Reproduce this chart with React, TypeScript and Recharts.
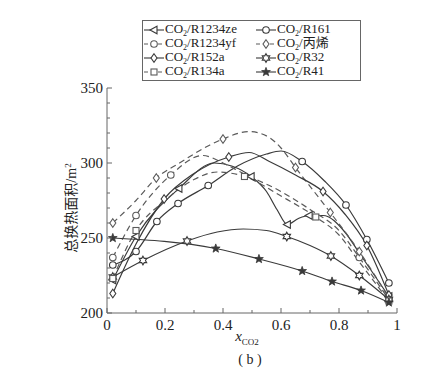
import { LineChart, Line, XAxis, YAxis } from "recharts";

type P = [number, number];

const xTicks = [0, 0.1, 0.2, 0.3, 0.4, 0.5, 0.6, 0.7, 0.8, 0.9, 1];
const yTicks = [200, 210, 220, 230, 240, 250, 260, 270, 280, 290, 300, 310, 320, 330, 340, 350];

// CO2/R1234ze
const r1234zeCurve: P[] = [
  [0.02, 222], [0.1, 251], [0.248, 283], [0.37, 300], [0.43, 298], [0.497, 291],
  [0.55, 281], [0.586, 269], [0.622, 259], [0.66, 263], [0.697, 265], [0.745, 265],
  [0.82, 254], [0.87, 240], [0.972, 211],
];
const r1234zeMarks: P[] = [[0.02, 222], [0.1, 251], [0.248, 283], [0.497, 291], [0.622, 259], [0.697, 265], [0.972, 211]];

// CO2/R161
const r161Curve: P[] = [
  [0.02, 232], [0.1, 241], [0.172, 261], [0.245, 273], [0.349, 285], [0.45, 298],
  [0.55, 306], [0.6, 308], [0.673, 301], [0.75, 288], [0.824, 272], [0.896, 249], [0.972, 220],
];
const r161Marks: P[] = [[0.02, 232], [0.1, 241], [0.172, 261], [0.245, 273], [0.349, 285], [0.673, 301], [0.824, 272], [0.896, 249], [0.972, 220]];

// CO2/R1234yf
const r1234yfCurve: P[] = [
  [0.02, 237], [0.1, 265], [0.22, 292], [0.33, 305], [0.4, 300], [0.47, 293],
  [0.6, 281], [0.7, 269], [0.8, 255], [0.87, 237], [0.972, 209],
];
const r1234yfMarks: P[] = [[0.02, 237], [0.1, 265], [0.22, 292], [0.87, 237], [0.972, 209]];

// CO2/丙烯
const propyleneCurve: P[] = [
  [0.02, 260], [0.1, 275], [0.17, 290], [0.25, 300], [0.355, 312], [0.4, 316],
  [0.49, 321], [0.56, 317], [0.6, 310], [0.65, 297], [0.77, 267], [0.87, 241], [0.972, 210],
];
const propyleneMarks: P[] = [[0.02, 260], [0.17, 290], [0.4, 316], [0.65, 297], [0.77, 267], [0.87, 241], [0.972, 210]];

// CO2/R152a
const r152aCurve: P[] = [
  [0.02, 213], [0.1, 246], [0.197, 276], [0.3, 293], [0.42, 304], [0.49, 307],
  [0.56, 301], [0.65, 292], [0.745, 281], [0.82, 266], [0.896, 245], [0.972, 212],
];
const r152aMarks: P[] = [[0.02, 213], [0.197, 276], [0.42, 304], [0.745, 281], [0.896, 245], [0.972, 212]];

// CO2/R32
const r32Curve: P[] = [
  [0.02, 224], [0.124, 235], [0.276, 248], [0.38, 254], [0.47, 256], [0.55, 255],
  [0.62, 251], [0.7, 245], [0.772, 238], [0.87, 225], [0.972, 209],
];
const r32Marks: P[] = [[0.02, 224], [0.124, 235], [0.276, 248], [0.62, 251], [0.772, 238], [0.87, 225], [0.972, 209]];

// CO2/R134a
const r134aCurve: P[] = [
  [0.02, 223], [0.1, 255], [0.2, 275], [0.3, 289], [0.38, 294], [0.474, 291],
  [0.6, 278], [0.72, 264], [0.8, 252], [0.87, 234], [0.972, 208],
];
const r134aMarks: P[] = [[0.02, 223], [0.1, 255], [0.474, 291], [0.72, 264], [0.972, 208]];

// CO2/R41
const r41Curve: P[] = [
  [0.02, 250], [0.375, 243], [0.524, 236], [0.673, 228], [0.776, 221], [0.876, 215], [0.972, 207],
];

const LINE = "#3a3a3a";
const DASH = "#5a5a5a";
const AXIS = "#666";
const TEXT = "#222";
const FONT = "'Liberation Serif', 'Times New Roman', serif";
const CJK = "'Liberation Serif', 'Noto Sans CJK SC', serif";

type Kind = "triL" | "circle" | "diamond" | "square" | "hex" | "star";

const series: { name: string; curve: P[]; marks: P[]; dashed: boolean; marker: Kind }[] = [
  { name: "R1234ze", curve: r1234zeCurve, marks: r1234zeMarks, dashed: false, marker: "triL" },
  { name: "R161", curve: r161Curve, marks: r161Marks, dashed: false, marker: "circle" },
  { name: "R1234yf", curve: r1234yfCurve, marks: r1234yfMarks, dashed: true, marker: "circle" },
  { name: "丙烯", curve: propyleneCurve, marks: propyleneMarks, dashed: true, marker: "diamond" },
  { name: "R152a", curve: r152aCurve, marks: r152aMarks, dashed: false, marker: "diamond" },
  { name: "R32", curve: r32Curve, marks: r32Marks, dashed: false, marker: "hex" },
  { name: "R134a", curve: r134aCurve, marks: r134aMarks, dashed: true, marker: "square" },
  { name: "R41", curve: r41Curve, marks: r41Curve, dashed: false, marker: "star" },
];

function starPoints(cx: number, cy: number, n: number, ro: number, ri: number) {
  const pts: string[] = [];
  for (let i = 0; i < n * 2; i++) {
    const r = i % 2 === 0 ? ro : ri;
    const a = -Math.PI / 2 + (i * Math.PI) / n;
    pts.push(`${cx + r * Math.cos(a)},${cy + r * Math.sin(a)}`);
  }
  return pts.join(" ");
}

function Marker({ kind, cx, cy, color }: { kind: Kind; cx: number; cy: number; color: string }) {
  const common = { stroke: color, strokeWidth: 1.1, fill: "#fff" };
  switch (kind) {
    case "triL":
      return <polygon points={`${cx - 4},${cy} ${cx + 3},${cy - 3.8} ${cx + 3},${cy + 3.8}`} {...common} />;
    case "circle":
      return <circle cx={cx} cy={cy} r={3.3} {...common} />;
    case "diamond":
      return <polygon points={`${cx},${cy - 4.2} ${cx + 3},${cy} ${cx},${cy + 4.2} ${cx - 3},${cy}`} {...common} />;
    case "square":
      return <rect x={cx - 3} y={cy - 3} width={6} height={6} {...common} />;
    case "hex":
      return <polygon points={starPoints(cx, cy, 6, 4.3, 2.5)} {...common} />;
    default:
      return <polygon points={starPoints(cx, cy, 5, 4.6, 1.9)} stroke={color} strokeWidth={0.8} fill={color} />;
  }
}

const toData = (arr: P[]) => arr.map(([x, y]) => ({ x, y }));

const fmtX = (v: number) => (v === 0 ? "0" : v === 1 ? "1" : v.toFixed(1));

const BottomTick = (p: any) => {
  const v = p.payload.value;
  const major = Math.round(v * 10) % 2 === 0;
  return (
    <g>
      <line x1={p.x} y1={p.y} x2={p.x} y2={p.y - (major ? 5 : 3)} stroke={AXIS} />
      {major && (
        <text x={p.x} y={p.y + 17} textAnchor="middle" fontFamily={FONT} fontSize={15} fill={TEXT}>
          {fmtX(v)}
        </text>
      )}
    </g>
  );
};

const TopTick = (p: any) => {
  const v = p.payload.value;
  const major = Math.round(v * 10) % 2 === 0;
  return <line x1={p.x} y1={p.y} x2={p.x} y2={p.y + (major ? 5 : 3)} stroke={AXIS} />;
};

const LeftTick = (p: any) => {
  const v = p.payload.value;
  const major = v % 50 === 0;
  return (
    <g>
      <line x1={p.x} y1={p.y} x2={p.x + (major ? 5 : 3)} y2={p.y} stroke={AXIS} />
      {major && (
        <text x={p.x - 4} y={p.y + 5} textAnchor="end" fontFamily={FONT} fontSize={15} fill={TEXT}>
          {v}
        </text>
      )}
    </g>
  );
};

const RightTick = (p: any) => {
  const v = p.payload.value;
  const major = v % 50 === 0;
  return <line x1={p.x} y1={p.y} x2={p.x - (major ? 5 : 3)} y2={p.y} stroke={AXIS} />;
};

const legendOrder = [
  ["R1234ze", "R161"],
  ["R1234yf", "丙烯"],
  ["R152a", "R32"],
  ["R134a", "R41"],
];

function LegendItem({ name }: { name: string }) {
  const s = series.find((d) => d.name === name)!;
  const color = s.dashed ? DASH : LINE;
  return (
    <div style={{ display: "flex", alignItems: "center", height: 13 }}>
      <svg width={20} height={12} style={{ marginRight: 1, flex: "none" }}>
        <line x1={0} y1={6} x2={20} y2={6} stroke={color} strokeWidth={1.1} strokeDasharray={s.dashed ? "4 3" : undefined} />
        <Marker kind={s.marker} cx={10} cy={6} color={color} />
      </svg>
      <span style={{ fontFamily: CJK, fontSize: 13, color: TEXT, whiteSpace: "nowrap", lineHeight: "13px" }}>
        CO<span style={{ fontSize: 8, position: "relative", top: 3 }}>2</span>/{name}
      </span>
    </div>
  );
}

export default function App() {
  return (
    <div style={{ position: "relative", width: 434, height: 369 }}>
      <LineChart width={434} height={369} margin={{ top: 80, right: 45, bottom: 34, left: 59 }}>
        <XAxis
          dataKey="x"
          type="number"
          domain={[0, 1]}
          ticks={xTicks}
          interval={0}
          tickSize={0}
          tickMargin={0}
          tick={BottomTick}
          axisLine={{ stroke: AXIS }}
          height={30}
        />
        <XAxis
          xAxisId="top"
          orientation="top"
          dataKey="x"
          type="number"
          domain={[0, 1]}
          ticks={xTicks}
          interval={0}
          tickSize={0}
          tickMargin={0}
          tick={TopTick}
          axisLine={{ stroke: AXIS }}
          height={0}
        />
        <YAxis
          type="number"
          domain={[200, 350]}
          ticks={yTicks}
          interval={0}
          tickSize={0}
          tickMargin={0}
          tick={LeftTick}
          axisLine={{ stroke: AXIS }}
          width={40}
        />
        <YAxis
          yAxisId="right"
          orientation="right"
          type="number"
          domain={[200, 350]}
          ticks={yTicks}
          interval={0}
          tickSize={0}
          tickMargin={0}
          tick={RightTick}
          axisLine={{ stroke: AXIS }}
          width={0}
        />
        <Line
          xAxisId="top"
          yAxisId="right"
          data={toData(r41Curve)}
          dataKey="y"
          stroke="none"
          dot={false}
          activeDot={false}
          isAnimationActive={false}
        />
        {series.map((s) => (
          <Line
            key={s.name + "-c"}
            data={toData(s.curve)}
            dataKey="y"
            type="monotone"
            stroke={s.dashed ? DASH : LINE}
            strokeWidth={1.2}
            strokeDasharray={s.dashed ? "6 4" : undefined}
            dot={false}
            activeDot={false}
            isAnimationActive={false}
          />
        ))}
        {series.map((s) => (
          <Line
            key={s.name + "-m"}
            data={toData(s.marks)}
            dataKey="y"
            stroke="none"
            activeDot={false}
            isAnimationActive={false}
            dot={(p: any) => (
              <Marker key={`${s.name}-${p.index}`} kind={s.marker} cx={p.cx} cy={p.cy} color={s.dashed ? DASH : LINE} />
            )}
          />
        ))}
      </LineChart>

      <div
        style={{
          position: "absolute",
          left: 134,
          top: 12,
          width: 217,
          height: 59,
          border: `1px solid ${AXIS}`,
          background: "#fff",
        }}
      >
        {legendOrder.map((row, i) => (
          <div key={i} style={{ position: "absolute", top: 2 + i * 14, left: 1, display: "flex" }}>
            <div style={{ width: 112 }}>
              <LegendItem name={row[0]} />
            </div>
            <LegendItem name={row[1]} />
          </div>
        ))}
      </div>

      <div
        style={{
          position: "absolute",
          left: 62,
          top: 200,
          transform: "translate(-50%, -50%) rotate(-90deg)",
          fontFamily: CJK,
          fontSize: 14,
          color: TEXT,
          whiteSpace: "nowrap",
        }}
      >
        总换热面积/m<span style={{ fontSize: 9, position: "relative", top: -5 }}>2</span>
      </div>

      <div
        style={{
          position: "absolute",
          left: 239,
          top: 320,
          transform: "translateX(-50%)",
          fontFamily: FONT,
          fontSize: 15,
          color: TEXT,
          whiteSpace: "nowrap",
        }}
      >
        <i>x</i>
        <span style={{ fontSize: 9, position: "relative", top: 4, color: TEXT }}>CO2</span>
      </div>

      <div
        style={{
          position: "absolute",
          left: 242,
          top: 344,
          transform: "translateX(-50%)",
          fontFamily: FONT,
          fontSize: 14,
          color: TEXT,
          whiteSpace: "pre",
        }}
      >
        ( b )
      </div>
    </div>
  );
}
